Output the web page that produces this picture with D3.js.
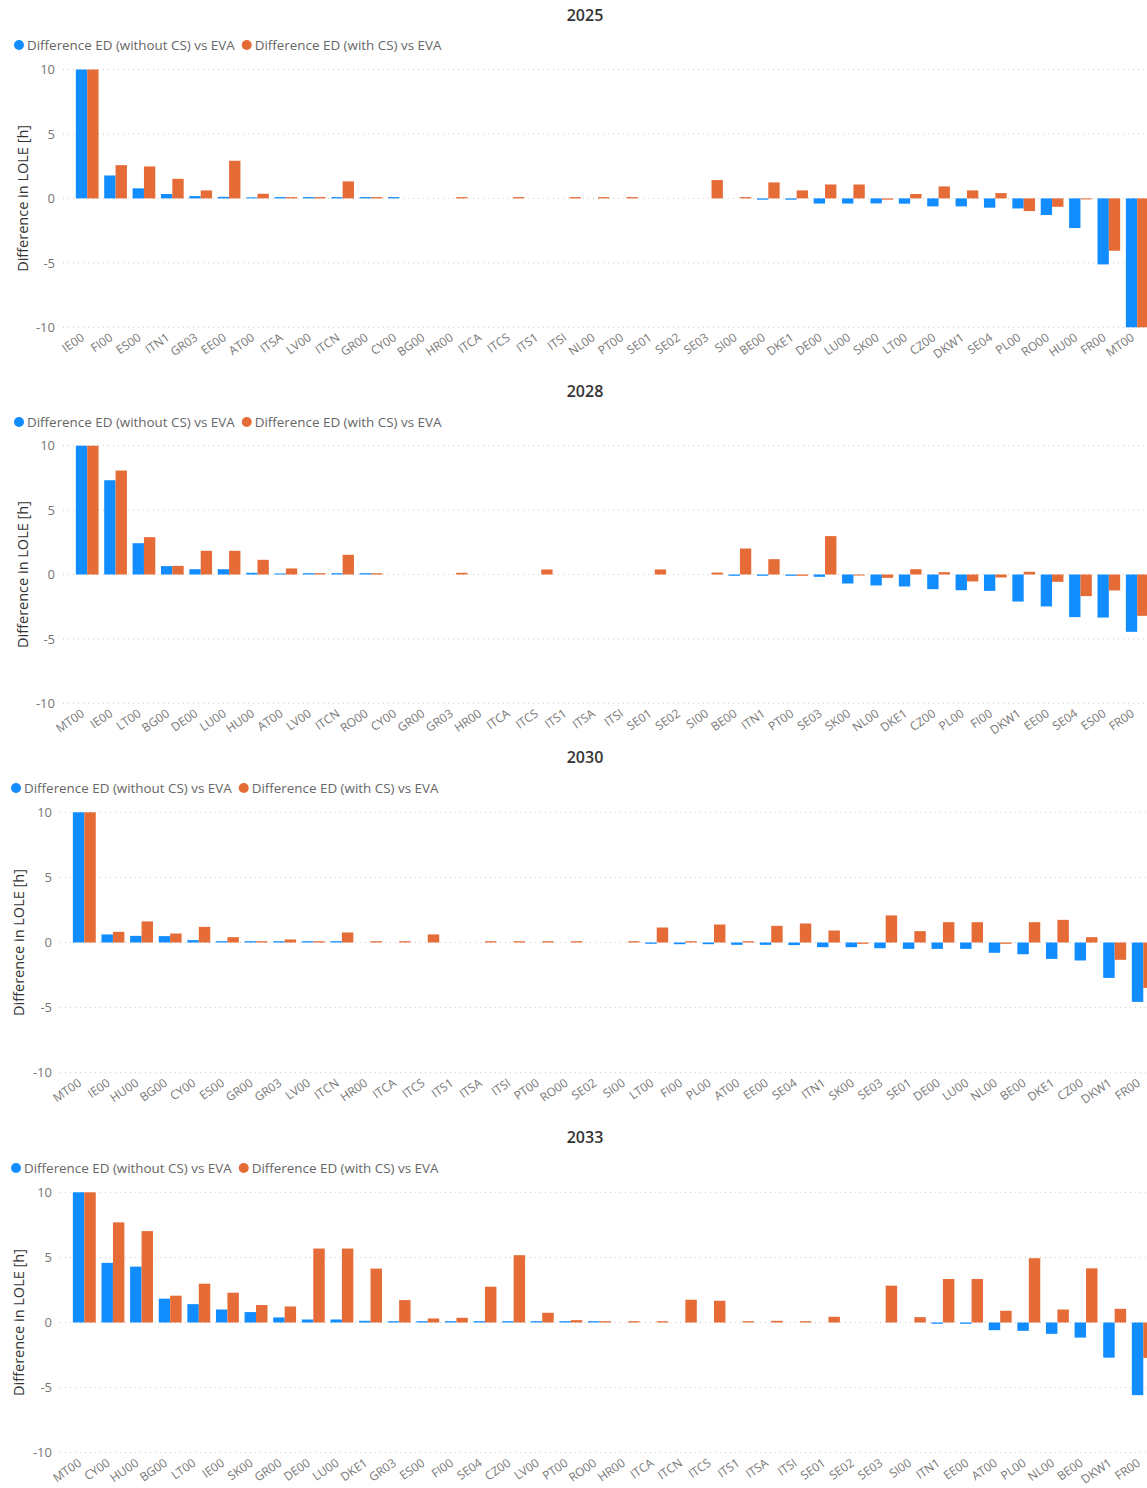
<!DOCTYPE html>
<html>
<head>
<meta charset="utf-8">
<title>Difference in LOLE</title>
<script src="https://d3js.org/d3.v7.min.js"></script>
<style>
  body, html { margin: 0; background: #fff; overflow: hidden; }
  svg { display: block; font-family: "Segoe UI", "Open Sans", sans-serif; }
</style>
</head>
<body>
<div id="chart"></div>
<script>
// ---- data ----
const seriesNames = ["Difference ED (without CS) vs EVA", "Difference ED (with CS) vs EVA"];

const cats2025 = ["IE00","FI00","ES00","ITN1","GR03","EE00","AT00","ITSA","LV00","ITCN","GR00","CY00","BG00","HR00","ITCA","ITCS","ITS1","ITSI","NL00","PT00","SE01","SE02","SE03","SI00","BE00","DKE1","DE00","LU00","SK00","LT00","CZ00","DKW1","SE04","PL00","RO00","HU00","FR00","MT00"];
const blue2025 = [10,1.78,0.78,0.34,0.18,0.12,0.08,0.1,0.1,0.1,0.1,0.1,0,0,0,0,0,0,0,0,0,0,0,0,-0.1,-0.1,-0.4,-0.4,-0.39,-0.41,-0.62,-0.62,-0.72,-0.78,-1.29,-2.3,-5.12,-10];
const orange2025 = [10,2.58,2.48,1.52,0.62,2.92,0.36,0.1,0.1,1.32,0.1,0,0,0.1,0,0.1,0,0.1,0.1,0.1,0,0,1.42,0.1,1.24,0.62,1.08,1.08,-0.1,0.34,0.93,0.62,0.41,-0.98,-0.65,-0.08,-4.06,-10];

const cats2028 = ["MT00","IE00","LT00","BG00","DE00","LU00","HU00","AT00","LV00","ITCN","RO00","CY00","GR00","GR03","HR00","ITCA","ITCS","ITS1","ITSA","ITSI","SE01","SE02","SI00","BE00","ITN1","PT00","SE03","SK00","NL00","DKE1","CZ00","PL00","FI00","DKW1","EE00","SE04","ES00","FR00"];
const blue2028 = [10,7.32,2.43,0.65,0.41,0.41,0.13,0.08,0.1,0.1,0.1,0,0,0,0,0,0,0,0,0,0,0,0,-0.1,-0.1,-0.1,-0.18,-0.7,-0.85,-0.93,-1.14,-1.22,-1.27,-2.1,-2.48,-3.31,-3.34,-4.45];
const orange2028 = [10,8.07,2.9,0.67,1.84,1.84,1.14,0.47,0.1,1.53,0.1,0,0,0.13,0,0,0.39,0,0,0,0.39,0,0.15,2.02,1.19,-0.1,2.98,-0.08,-0.26,0.41,0.18,-0.54,-0.23,0.21,-0.57,-1.68,-1.24,-3.21];

const cats2030 = ["MT00","IE00","HU00","BG00","CY00","ES00","GR00","GR03","LV00","ITCN","HR00","ITCA","ITCS","ITS1","ITSA","ITSI","PT00","RO00","SE02","SI00","LT00","FI00","PL00","AT00","EE00","SE04","ITN1","SK00","SE03","SE01","DE00","LU00","NL00","BE00","DKE1","CZ00","DKW1","FR00"];
const blue2030 = [10,0.62,0.51,0.49,0.18,0.1,0.1,0.1,0.1,0.1,0,0,0,0,0,0,0,0,0,0,-0.1,-0.13,-0.13,-0.18,-0.18,-0.2,-0.36,-0.36,-0.44,-0.49,-0.49,-0.49,-0.79,-0.9,-1.26,-1.38,-2.72,-4.56];
const orange2030 = [10,0.82,1.62,0.69,1.2,0.41,0.1,0.23,0.1,0.77,0.1,0.1,0.62,0,0.1,0.1,0.1,0.1,0,0.1,1.15,0.1,1.38,0.1,1.28,1.46,0.92,-0.1,2.08,0.87,1.56,1.56,-0.1,1.56,1.74,0.41,-1.33,-3.49];

const cats2033 = ["MT00","CY00","HU00","BG00","LT00","IE00","SK00","GR00","DE00","LU00","DKE1","GR03","ES00","FI00","SE04","CZ00","LV00","PT00","RO00","HR00","ITCA","ITCN","ITCS","ITS1","ITSA","ITSI","SE01","SE02","SE03","SI00","ITN1","EE00","AT00","PL00","NL00","BE00","DKW1","FR00"];
const blue2033 = [10,4.58,4.29,1.83,1.41,1.0,0.8,0.39,0.23,0.23,0.13,0.1,0.1,0.1,0.1,0.1,0.1,0.1,0.1,0,0,0,0,0,0,0,0,0,0,0,-0.1,-0.1,-0.59,-0.64,-0.87,-1.16,-2.7,-5.58];
const orange2033 = [10,7.69,7.02,2.06,2.98,2.29,1.34,1.23,5.68,5.68,4.14,1.72,0.31,0.36,2.75,5.17,0.75,0.18,0.1,0.1,0.1,1.75,1.67,0.1,0.13,0.1,0.44,0,2.83,0.41,3.34,3.34,0.9,4.94,1.0,4.16,1.05,-2.72];

const yTicks = [-10, -5, 0, 5, 10];
const colors = ["#118DFF", "#E66C37"];

// ---- layout ----
const width = 1147, height = 1488;
const font = "\"Segoe UI\", \"Open Sans\", sans-serif";

const svg = d3.select("#chart").append("svg")
    .attr("width", width)
    .attr("height", height);

const panels = [
    {year: "2025", cats: cats2025, blue: blue2025, orange: orange2025,
     titleY: 15, legendY: 45, legendX: 19, top: 69.5, bottom: 327.3, x0: 73, x1: 1151.4, tickRight: 55, gridX: 63, axisTitleX: 22},
    {year: "2028", cats: cats2028, blue: blue2028, orange: orange2028,
     titleY: 391, legendY: 422, legendX: 19, top: 445.7, bottom: 703.3, x0: 73, x1: 1151.4, tickRight: 55, gridX: 63, axisTitleX: 22},
    {year: "2030", cats: cats2030, blue: blue2030, orange: orange2030,
     titleY: 757, legendY: 788, legendX: 16, top: 812.3, bottom: 1072.7, x0: 70, x1: 1157.6, tickRight: 52, gridX: 60, axisTitleX: 18},
    {year: "2033", cats: cats2033, blue: blue2033, orange: orange2033,
     titleY: 1137, legendY: 1168, legendX: 16, top: 1192.3, bottom: 1452.7, x0: 70, x1: 1157.6, tickRight: 52, gridX: 60, axisTitleX: 18}
];

panels.forEach(p => drawPanel(p));

function drawPanel(p) {
    const g = svg.append("g");

    // title
    g.append("text")
        .attr("x", 585).attr("y", p.titleY)
        .attr("text-anchor", "middle")
        .attr("dominant-baseline", "central")
        .style("font-size", "16px")
        .style("font-weight", 600)
        .style("fill", "#333")
        .text(p.year);

    // legend
    let lx = p.legendX;
    seriesNames.forEach((name, i) => {
        g.append("circle")
            .attr("cx", lx).attr("cy", p.legendY).attr("r", 5)
            .style("fill", colors[i]);
        const t = g.append("text")
            .attr("x", lx + 8).attr("y", p.legendY)
            .attr("dominant-baseline", "central")
            .style("font-size", "13.4px")
            .style("fill", "#666")
            .text(name);
        lx += 8 + t.node().getComputedTextLength() + 12;
    });

    const x = d3.scaleBand()
        .domain(p.cats)
        .range([p.x0, p.x1])
        .paddingInner(0.2)
        .paddingOuter(0.1);

    const y = d3.scaleLinear()
        .domain([-10, 10])
        .range([p.bottom, p.top]);

    // gridlines
    g.append("g")
        .selectAll("line")
        .data(yTicks)
        .join("line")
        .attr("x1", p.gridX).attr("x2", width)
        .attr("y1", d => y(d)).attr("y2", d => y(d))
        .style("stroke", "#c8c8c8")
        .style("stroke-width", 1)
        .style("stroke-dasharray", "1,4");

    // y axis
    const yAxis = g.append("g")
        .attr("transform", `translate(${p.tickRight},0)`)
        .call(d3.axisLeft(y).tickValues(yTicks).tickFormat(d => String(d)).tickSize(0).tickPadding(0));
    yAxis.select(".domain").remove();
    yAxis.selectAll("text")
        .style("font-size", "13px")
        .style("fill", "#777")
        .style("font-family", font);

    g.append("text")
        .attr("transform", `translate(${p.axisTitleX},${(p.top + p.bottom) / 2}) rotate(-90)`)
        .attr("text-anchor", "middle")
        .attr("dominant-baseline", "central")
        .style("font-size", "14.5px")
        .style("fill", "#333")
        .text("Difference in LOLE [h]");

    // bars
    const bw = x.bandwidth() / 2;
    const clamp = v => Math.max(-10, Math.min(10, v));
    [p.blue, p.orange].forEach((vals, s) => {
        g.append("g")
            .selectAll("rect")
            .data(p.cats.map((c, i) => ({c: c, v: clamp(vals[i])})).filter(d => d.v !== 0))
            .join("rect")
            .attr("x", d => x(d.c) + s * bw)
            .attr("width", bw)
            .attr("y", d => y(Math.max(0, d.v)))
            .attr("height", d => Math.max(1, Math.abs(y(d.v) - y(0))))
            .style("fill", colors[s]);
    });

    // x axis labels
    const xAxis = g.append("g")
        .attr("transform", `translate(-7,${p.bottom + 5})`)
        .call(d3.axisBottom(x).tickSize(0).tickPadding(0));
    xAxis.select(".domain").remove();
    xAxis.selectAll("text")
        .attr("text-anchor", "end")
        .attr("dy", "0.72em")
        .attr("transform", "rotate(-35)")
        .style("font-size", "12px")
        .style("fill", "#777")
        .style("font-family", font);
}
</script>
</body>
</html>
